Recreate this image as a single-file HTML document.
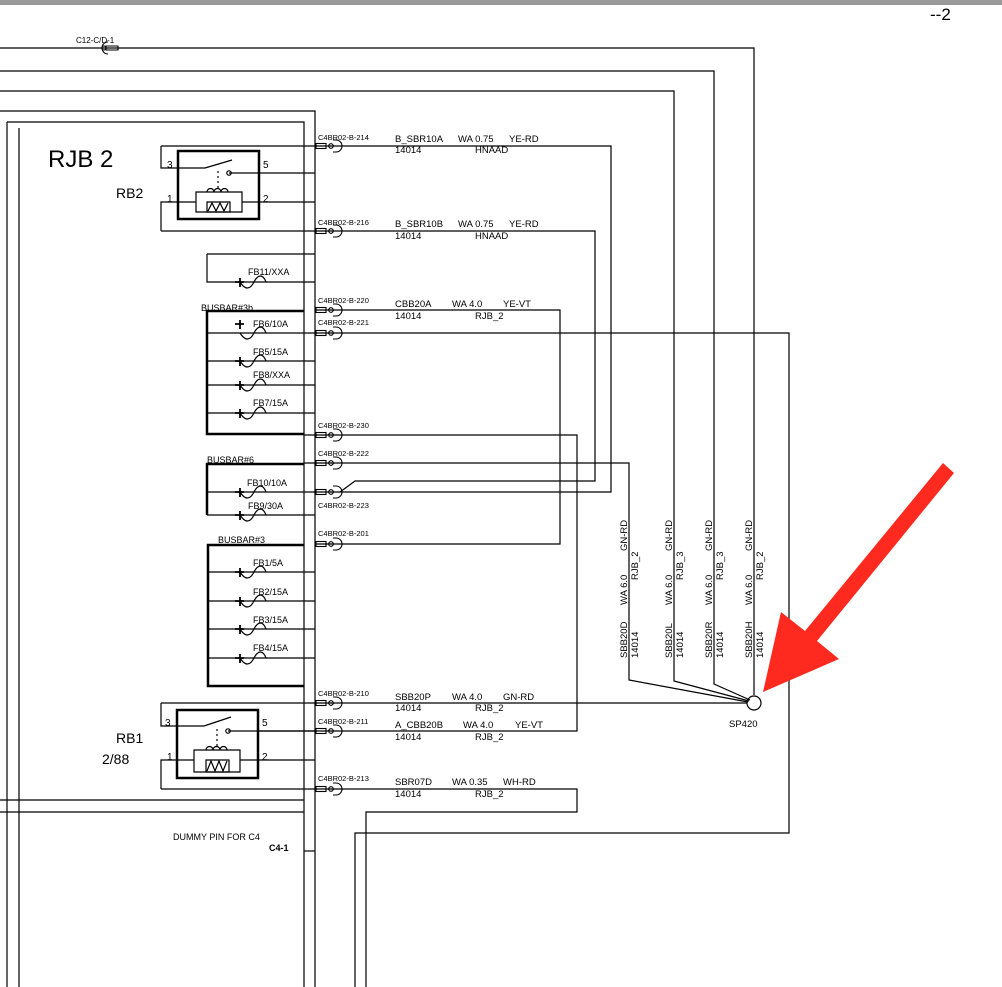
<!DOCTYPE html>
<html><head><meta charset="utf-8"><style>
html,body{margin:0;padding:0;background:#fff;}
svg{display:block;}
text{font-family:"Liberation Sans",sans-serif;fill:#000;}
.s{font-size:8px;}
.m{font-size:10px;}
</style></head><body>
<svg width="1002" height="987" viewBox="0 0 1002 987" xmlns="http://www.w3.org/2000/svg">
<defs>
<g id="c"><rect x="316" y="-2.5" width="10" height="5"/><circle cx="331" cy="0" r="2.3"/><path d="M333 -6h3a6 6 0 0 1 0 12h-3"/></g>
</defs>
<rect x="0" y="0" width="1002" height="5" fill="#999"/>
<text x="930" y="20" style="font-size:17px">--2</text>
<g fill="none" stroke="#000" stroke-width="1.2">
<path d="M0 48H754V695"/>
<path d="M0 71H714V684L750 700"/>
<path d="M0 91H674V681L749 701"/>
<path d="M0 111H315V987"/>
<path d="M7 122H304V987"/>
<path d="M7 122V987"/>
<path d="M19 128V987"/>
<path d="M0 800H304M0 812H304"/>
<path d="M304 851H315"/>
<path d="M161 146H611V492H315"/>
<path d="M161 231H595V481H355L340 492"/>
<path d="M315 310H560V544H315"/>
<path d="M315 333H789V833H355V987"/>
<path d="M304 435H577V731H259"/>
<path d="M304 463H629V680L748 702"/>
<path d="M161 703H747"/>
<path d="M161 789H577V812H366V987"/>
<circle cx="754" cy="703" r="7"/>
<path d="M161 146V168H205M161 231V202H196M229 173H315M242 202H315"/>
<path d="M205 168L232 160"/>
<path d="M218 171V190" stroke-dasharray="2,3"/>
<path d="M196 202V192H242V212H196Z"/>
<path d="M207 192a3.5 3.5 0 0 1 7 0a3.5 3.5 0 0 1 7 0a3.5 3.5 0 0 1 7 0"/>
<path d="M207 202H230V212H207Z"/>
<path d="M208 211L212 203L216 211L220 203L224 211L228 203"/>
<circle cx="229" cy="173" r="2.2"/>
<path d="M161 703V726H204M161 789V760H194M228 731H315M240 760H315"/>
<path d="M204 726L231 717"/>
<path d="M217 729V748" stroke-dasharray="2,3"/>
<path d="M194 760V750H240V772H194Z"/>
<path d="M206 750a3.5 3.5 0 0 1 7 0a3.5 3.5 0 0 1 7 0a3.5 3.5 0 0 1 7 0"/>
<path d="M206 760H229V772H206Z"/>
<path d="M207 771L211 761L215 771L219 761L223 771L227 761"/>
<circle cx="228" cy="731" r="2.2"/>
<path d="M207 254H315M207 254V282H315"/>
<path d="M207 333H315M207 361H315M207 385H315M207 413H315"/>
<path d="M207 492H315M207 515H315"/>
<path d="M207 572H315M207 601H315M207 629H315M207 658H315"/>
</g>
<g fill="none" stroke="#000" stroke-width="2.5">
<rect x="178" y="151" width="81" height="68"/>
<rect x="177" y="710" width="81" height="68"/>
<path d="M304 311H207V434H304"/>
<path d="M304 464H207V515"/>
<path d="M304 545H208V686H304"/>
</g>
<g fill="none" stroke="#000" stroke-width="1.2">
<path d="M240 282c5 8 10 8 14 0s9 -8 12 0"/>
<path d="M240 333c5 8 10 8 14 0s9 -8 12 0"/>
<path d="M240 361c5 8 10 8 14 0s9 -8 12 0"/>
<path d="M240 385c5 8 10 8 14 0s9 -8 12 0"/>
<path d="M240 413c5 8 10 8 14 0s9 -8 12 0"/>
<path d="M240 492c5 8 10 8 14 0s9 -8 12 0"/>
<path d="M240 515c5 8 10 8 14 0s9 -8 12 0"/>
<path d="M240 572c5 8 10 8 14 0s9 -8 12 0"/>
<path d="M240 601c5 8 10 8 14 0s9 -8 12 0"/>
<path d="M240 629c5 8 10 8 14 0s9 -8 12 0"/>
<path d="M240 658c5 8 10 8 14 0s9 -8 12 0"/>
</g>
<g fill="none" stroke="#000" stroke-width="1.8">
<path d="M235 282h9M240 278v9"/>
<path d="M235 324h9M240 320v9"/>
<path d="M235 361h9M240 357v9"/>
<path d="M235 385h9M240 381v9"/>
<path d="M235 413h9M240 409v9"/>
<path d="M235 492h9M240 488v9"/>
<path d="M235 515h9M240 511v9"/>
<path d="M235 572h9M240 568v9"/>
<path d="M235 601h9M240 597v9"/>
<path d="M235 629h9M240 625v9"/>
<path d="M235 658h9M240 654v9"/>
</g>
<g fill="none" stroke="#000" stroke-width="1.1">
<use href="#c" y="146"/><use href="#c" y="231"/><use href="#c" y="310"/><use href="#c" y="333"/>
<use href="#c" y="435"/><use href="#c" y="463"/><use href="#c" y="492"/><use href="#c" y="544"/>
<use href="#c" y="703"/><use href="#c" y="731"/><use href="#c" y="789"/>
<path d="M118 46h-12v4h12zM108 42a6 6 0 0 0 0 12"/>
<circle cx="104" cy="48" r="2"/>
</g>
<text x="76" y="43" class="s">C12-C/D-1</text>
<text x="48" y="167" style="font-size:24px">RJB 2</text>
<text x="116" y="198" style="font-size:14px">RB2</text>
<text x="116" y="743" style="font-size:14px">RB1</text>
<text x="102" y="764" style="font-size:14px">2/88</text>
<g class="m">
<text x="167" y="168">3</text><text x="263" y="168">5</text>
<text x="167" y="202">1</text><text x="263" y="202">2</text>
<text x="165" y="726">3</text><text x="262" y="726">5</text>
<text x="167" y="760">1</text><text x="262" y="760">2</text>
</g>
<g class="s" style="font-size:9px">
<text x="248" y="275">FB11/XXA</text>
<text x="201" y="311">BUSBAR#3b</text>
<text x="253" y="327">FB6/10A</text>
<text x="253" y="355">FB5/15A</text>
<text x="253" y="378">FB8/XXA</text>
<text x="253" y="406">FB7/15A</text>
<text x="207" y="463">BUSBAR#6</text>
<text x="247" y="486">FB10/10A</text>
<text x="248" y="509">FB9/30A</text>
<text x="218" y="543">BUSBAR#3</text>
<text x="253" y="566">FB1/5A</text>
<text x="253" y="595">FB2/15A</text>
<text x="253" y="623">FB3/15A</text>
<text x="253" y="651">FB4/15A</text>
<text x="173" y="840">DUMMY PIN FOR C4</text>
<text x="269" y="851" style="font-weight:bold">C4-1</text>
</g>
<g style="font-size:7.5px">
<text x="318" y="140">C4BR02-B-214</text>
<text x="318" y="225">C4BR02-B-216</text>
<text x="318" y="303">C4BR02-B-220</text>
<text x="318" y="325">C4BR02-B-221</text>
<text x="318" y="428">C4BR02-B-230</text>
<text x="318" y="456">C4BR02-B-222</text>
<text x="318" y="508">C4BR02-B-223</text>
<text x="318" y="536">C4BR02-B-201</text>
<text x="318" y="696">C4BR02-B-210</text>
<text x="318" y="724">C4BR02-B-211</text>
<text x="318" y="781">C4BR02-B-213</text>
</g>
<g class="m" style="font-size:9.5px">
<text x="395" y="142">B_SBR10A</text><text x="458" y="142">WA  0.75</text><text x="509" y="142">YE-RD</text>
<text x="395" y="153">14014</text><text x="475" y="153">HNAAD</text>
<text x="395" y="227">B_SBR10B</text><text x="458" y="227">WA  0.75</text><text x="509" y="227">YE-RD</text>
<text x="395" y="239">14014</text><text x="475" y="239">HNAAD</text>
<text x="395" y="307">CBB20A</text><text x="452" y="307">WA  4.0</text><text x="503" y="307">YE-VT</text>
<text x="395" y="319">14014</text><text x="475" y="319">RJB_2</text>
<text x="395" y="700">SBB20P</text><text x="452" y="700">WA  4.0</text><text x="503" y="700">GN-RD</text>
<text x="395" y="711">14014</text><text x="475" y="711">RJB_2</text>
<text x="395" y="728">A_CBB20B</text><text x="463" y="728">WA  4.0</text><text x="515" y="728">YE-VT</text>
<text x="395" y="740">14014</text><text x="475" y="740">RJB_2</text>
<text x="395" y="785">SBR07D</text><text x="452" y="785">WA  0.35</text><text x="503" y="785">WH-RD</text>
<text x="395" y="797">14014</text><text x="475" y="797">RJB_2</text>
<text x="729" y="727">SP420</text>
</g>
<g style="font-size:9.5px">
<g transform="translate(627,658) rotate(-90)"><text x="0" y="0">SBB20D</text><text x="53" y="0">WA  6.0</text><text x="107" y="0">GN-RD</text><text x="0" y="11">14014</text><text x="78" y="11">RJB_2</text></g>
<g transform="translate(672,658) rotate(-90)"><text x="0" y="0">SBB20L</text><text x="53" y="0">WA  6.0</text><text x="107" y="0">GN-RD</text><text x="0" y="11">14014</text><text x="78" y="11">RJB_3</text></g>
<g transform="translate(712,658) rotate(-90)"><text x="0" y="0">SBB20R</text><text x="53" y="0">WA  6.0</text><text x="107" y="0">GN-RD</text><text x="0" y="11">14014</text><text x="78" y="11">RJB_3</text></g>
<g transform="translate(752,658) rotate(-90)"><text x="0" y="0">SBB20H</text><text x="53" y="0">WA  6.0</text><text x="107" y="0">GN-RD</text><text x="0" y="11">14014</text><text x="78" y="11">RJB_2</text></g>
</g>
<polygon points="943,463 954,473 817,641 839,659 763,692 781,612 805,631" fill="#ff2a1f"/>
</svg>
</body></html>
